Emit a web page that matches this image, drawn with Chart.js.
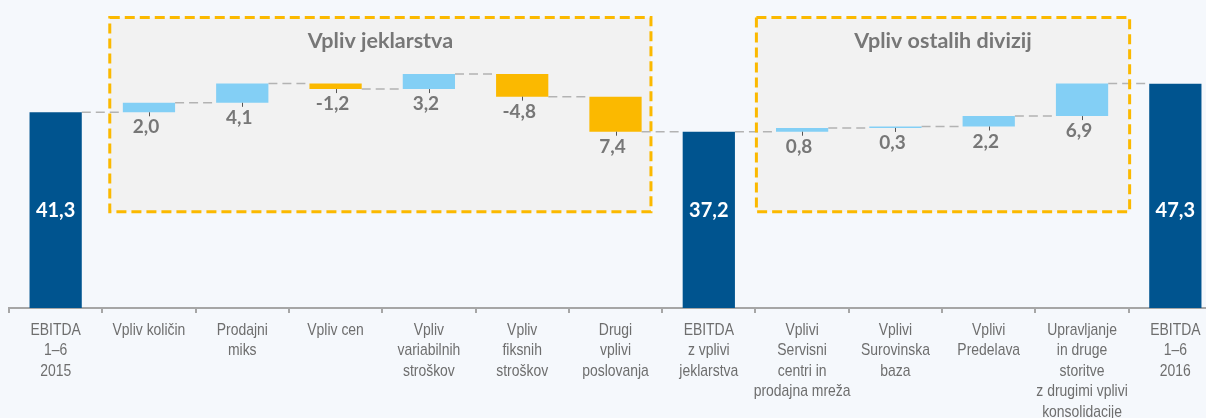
<!DOCTYPE html>
<html>
<head>
<meta charset="utf-8">
<script src="https://cdn.jsdelivr.net/npm/chart.js@4"></script>
<style>
  html, body { margin: 0; padding: 0; background: #f5f8fc; overflow: hidden; }
  #wrap { width: 1223px; height: 418px; }
</style>
</head>
<body>
<div id="wrap"><canvas id="chart" width="1223" height="418"></canvas></div>
<script>
const categories = [
  ["EBITDA", "1–6", "2015"],
  ["Vpliv količin"],
  ["Prodajni", "miks"],
  ["Vpliv cen"],
  ["Vpliv", "variabilnih", "stroškov"],
  ["Vpliv", "fiksnih", "stroškov"],
  ["Drugi", "vplivi", "poslovanja"],
  ["EBITDA", "z vplivi", "jeklarstva"],
  ["Vplivi", "Servisni", "centri in", "prodajna mreža"],
  ["Vplivi", "Surovinska", "baza"],
  ["Vplivi", "Predelava"],
  ["Upravljanje", "in druge", "storitve", "z drugimi vplivi", "konsolidacije"],
  ["EBITDA", "1–6", "2016"]
];
const changes = [41.3, 2.0, 4.1, -1.2, 3.2, -4.8, -7.4, 37.2, 0.8, 0.3, 2.2, 6.9, 47.3];
const isTotal = [true, false, false, false, false, false, false, true, false, false, false, false, true];
const valueLabels = ["41,3", "2,0", "4,1", "-1,2", "3,2", "-4,8", "7,4", "37,2", "0,8", "0,3", "2,2", "6,9", "47,3"];
const groups = [
  { title: "Vpliv jeklarstva", first: 1, last: 6 },
  { title: "Vpliv ostalih divizij", first: 8, last: 11 }
];

const DARK = "#00548f", UP = "#83cff5", DOWN = "#fbb900";
const GREY_TEXT = "#777777";

// floating bars from running total
let running = 0;
const bars = changes.map((v, i) => {
  if (isTotal[i]) { running = v; return [0, v]; }
  const r = [running, running + v];
  running += v;
  return r;
});
const colors = changes.map((v, i) => isTotal[i] ? DARK : (v >= 0 ? UP : DOWN));

// box geometry in category units (left/right offset from group centres)
const boxStyle = [
  { left: 0.42, right: 0.38, top: 61.3, bottom: 20.3 },
  { left: 0.49, right: 0.51, top: 61.3, bottom: 20.3 }
];

function boxRect(chart, k) {
  const { x, y } = chart.scales;
  const step = x.getPixelForValue(1) - x.getPixelForValue(0);
  const g = groups[k], s = boxStyle[k];
  const x0 = x.getPixelForValue(g.first) - s.left * step;
  const x1 = x.getPixelForValue(g.last) + s.right * step;
  return { x0, x1, y0: y.getPixelForValue(s.top), y1: y.getPixelForValue(s.bottom) };
}

const groupBoxes = {
  id: "groupBoxes",
  beforeDatasetsDraw(chart) {
    const { ctx, scales: { y } } = chart;
    groups.forEach((g, k) => {
      const r = boxRect(chart, k);
      ctx.save();
      ctx.fillStyle = "#f2f2f2";
      ctx.fillRect(r.x0, r.y0, r.x1 - r.x0, r.y1 - r.y0);
      ctx.fillStyle = GREY_TEXT;
      ctx.font = "bold 21.5px Lato, 'Open Sans', sans-serif";
      ctx.textAlign = "center";
      ctx.textBaseline = "middle";
      ctx.fillText(g.title, (r.x0 + r.x1) / 2, r.y0 + 24);
      ctx.restore();
    });

    // connectors
    const meta = chart.getDatasetMeta(0);
    ctx.save();
    ctx.strokeStyle = "#b3b3b3";
    ctx.lineWidth = 1.5;
    ctx.setLineDash([9, 5]);
    for (let i = 0; i < bars.length - 1; i++) {
      const a = meta.data[i], b = meta.data[i + 1];
      const yy = y.getPixelForValue(bars[i][1]);
      ctx.beginPath();
      ctx.moveTo(a.x + a.width / 2, yy);
      ctx.lineTo(b.x - b.width / 2, yy);
      ctx.stroke();
    }
    ctx.restore();

    // dashed borders on top of connectors
    groups.forEach((g, k) => {
      const r = boxRect(chart, k);
      ctx.save();
      ctx.strokeStyle = DOWN;
      ctx.lineWidth = 3;
      ctx.setLineDash([10, 5]);
      ctx.strokeRect(r.x0, r.y0, r.x1 - r.x0, r.y1 - r.y0);
      ctx.restore();
    });
  },
  afterDatasetsDraw(chart) {
    const { ctx, scales: { y } } = chart;
    const meta = chart.getDatasetMeta(0);
    ctx.save();
    ctx.textAlign = "center";
    ctx.textBaseline = "middle";
    meta.data.forEach((bar, i) => {
      if (isTotal[i]) {
        ctx.fillStyle = "#ffffff";
        ctx.font = "bold 20px Lato, 'Open Sans', sans-serif";
        ctx.fillText(valueLabels[i], bar.x, y.getPixelForValue(20.5));
      } else {
        const bottom = y.getPixelForValue(Math.min(bars[i][0], bars[i][1]));
        ctx.strokeStyle = "#555555";
        ctx.lineWidth = 1;
        ctx.beginPath();
        ctx.moveTo(Math.round(bar.x) + 0.5, bottom);
        ctx.lineTo(Math.round(bar.x) + 0.5, bottom + 4);
        ctx.stroke();
        ctx.fillStyle = GREY_TEXT;
        ctx.font = "bold 19px Lato, 'Open Sans', sans-serif";
        ctx.fillText(valueLabels[i], bar.x - 3, bottom + 15);
      }
    });
    ctx.restore();
  }
};

// category labels in a narrow face (no narrow font installed, so squeeze Liberation Sans)
const narrowLabels = {
  id: "narrowLabels",
  afterDraw(chart) {
    const { ctx, scales: { x } } = chart;
    ctx.save();
    ctx.fillStyle = "#6e6e6e";
    ctx.font = "17px 'Liberation Sans', Arial, sans-serif";
    ctx.textAlign = "center";
    ctx.textBaseline = "middle";
    categories.forEach((lines, i) => {
      const cx = x.getPixelForValue(i);
      lines.forEach((line, j) => {
        ctx.save();
        ctx.translate(cx, x.top + 22 + j * 20.5);
        ctx.scale(0.82, 1);
        ctx.fillText(line, 0, 0);
        ctx.restore();
      });
    });
    ctx.restore();
  }
};

new Chart(document.getElementById("chart"), {
  type: "bar",
  data: {
    labels: categories,
    datasets: [{
      data: bars,
      backgroundColor: colors,
      borderWidth: 0,
      barPercentage: 0.56,
      categoryPercentage: 1
    }]
  },
  options: {
    responsive: false,
    animation: false,
    layout: { padding: { left: 9, right: 1, top: 0, bottom: 0 } },
    plugins: { legend: { display: false }, tooltip: { enabled: false } },
    scales: {
      x: {
        afterFit(scale) { scale.height = 110; },
        grid: { offset: true, drawOnChartArea: false, drawTicks: true, tickLength: 5, color: "#a6a6a6", lineWidth: 2 },
        border: { color: "#a6a6a6", width: 2 },
        ticks: { display: false, autoSkip: false }
      },
      y: { display: false, min: 0, max: 65 }
    }
  },
  plugins: [groupBoxes, narrowLabels]
});
</script>
</body>
</html>
